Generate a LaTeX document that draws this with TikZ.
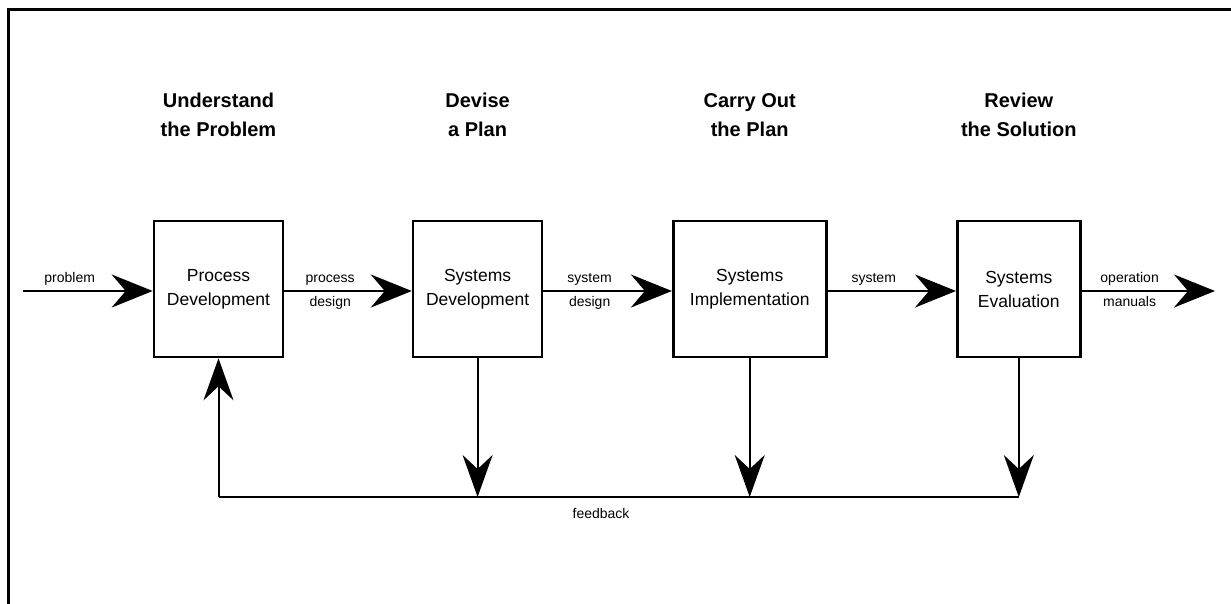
\documentclass[tikz,border=0pt]{standalone}
\usepackage{fontspec}
\setmainfont{Liberation Sans}
\usetikzlibrary{arrows.meta,positioning}

\tikzset{
  box/.style={draw, line width=2.6pt, minimum width=#1, minimum height=136pt,
    inner sep=0pt, align=center, font=\fontsize{17.5}{24}\selectfont},
  ttl/.style={align=center, inner sep=0pt, font=\bfseries\fontsize{20}{29}\selectfont},
  lbl/.style={inner sep=0pt, font=\fontsize{14}{17}\selectfont},
  toplbl/.style={lbl, pos=0.36, anchor=base, yshift=9pt},
  botlbl/.style={lbl, pos=0.36, anchor=base, yshift=-15pt},
  flow/.style={line width=2.6pt, -{Stealth[length=41pt,width=33pt,inset=14pt]}},
  back/.style={line width=2pt, -{Stealth[length=42pt,width=30pt,inset=14pt]}}
}

\begin{document}
\begin{tikzpicture}[x=1pt,y=-1pt]

\useasboundingbox (0,0) rectangle (1231,603);
\draw[line width=3pt] (8,620)--(8,9)--(1240,9);

% the four stages
\node[box=129pt] (pd) at (218.5,289) {Process\\Development};
\node[box=129pt, right=127.5pt of pd] (sd) {Systems\\Development};
\node[box=153pt, right=128.5pt of sd] (si) {Systems\\Implementation};
\node[box=123pt, right=128.5pt of si] (se) {Systems\\Evaluation};

\node[ttl] (t1) at ([yshift=105pt]pd.north) {Understand\\the Problem};
\node[ttl] (t2) at ([yshift=105pt]sd.north) {Devise\\a Plan};
\node[ttl] (t3) at ([yshift=105pt]si.north) {Carry Out\\the Plan};
\node[ttl] (t4) at ([yshift=105pt]se.north) {Review\\the Solution};

\coordinate (in) at (23,291);
\coordinate (out) at (1215,291);
\coordinate (fb) at (0,497);

% main flow
\draw[flow] (in) -- node[toplbl] {problem} (in -| pd.west);
\draw[flow] (pd.east |- in) -- node[toplbl] {process} node[botlbl] {design} (in -| sd.west);
\draw[flow] (sd.east |- in) -- node[toplbl] {system} node[botlbl] {design} (in -| si.west);
\draw[flow] (si.east |- in) -- node[toplbl] {system} (in -| se.west);
\draw[flow] (se.east |- in) -- node[toplbl] {operation} node[botlbl] {manuals} (out);

% feedback
\draw[line width=2.6pt] (pd.south |- fb) -- node[lbl, pos=0.478, below=10pt] {feedback} (se.south |- fb);
\draw[back] (pd.south |- fb) -- (pd.south);
\draw[back] (sd.south) -- (sd.south |- fb);
\draw[back] (si.south) -- (si.south |- fb);
\draw[back] (se.south) -- (se.south |- fb);

\end{tikzpicture}
\end{document}
